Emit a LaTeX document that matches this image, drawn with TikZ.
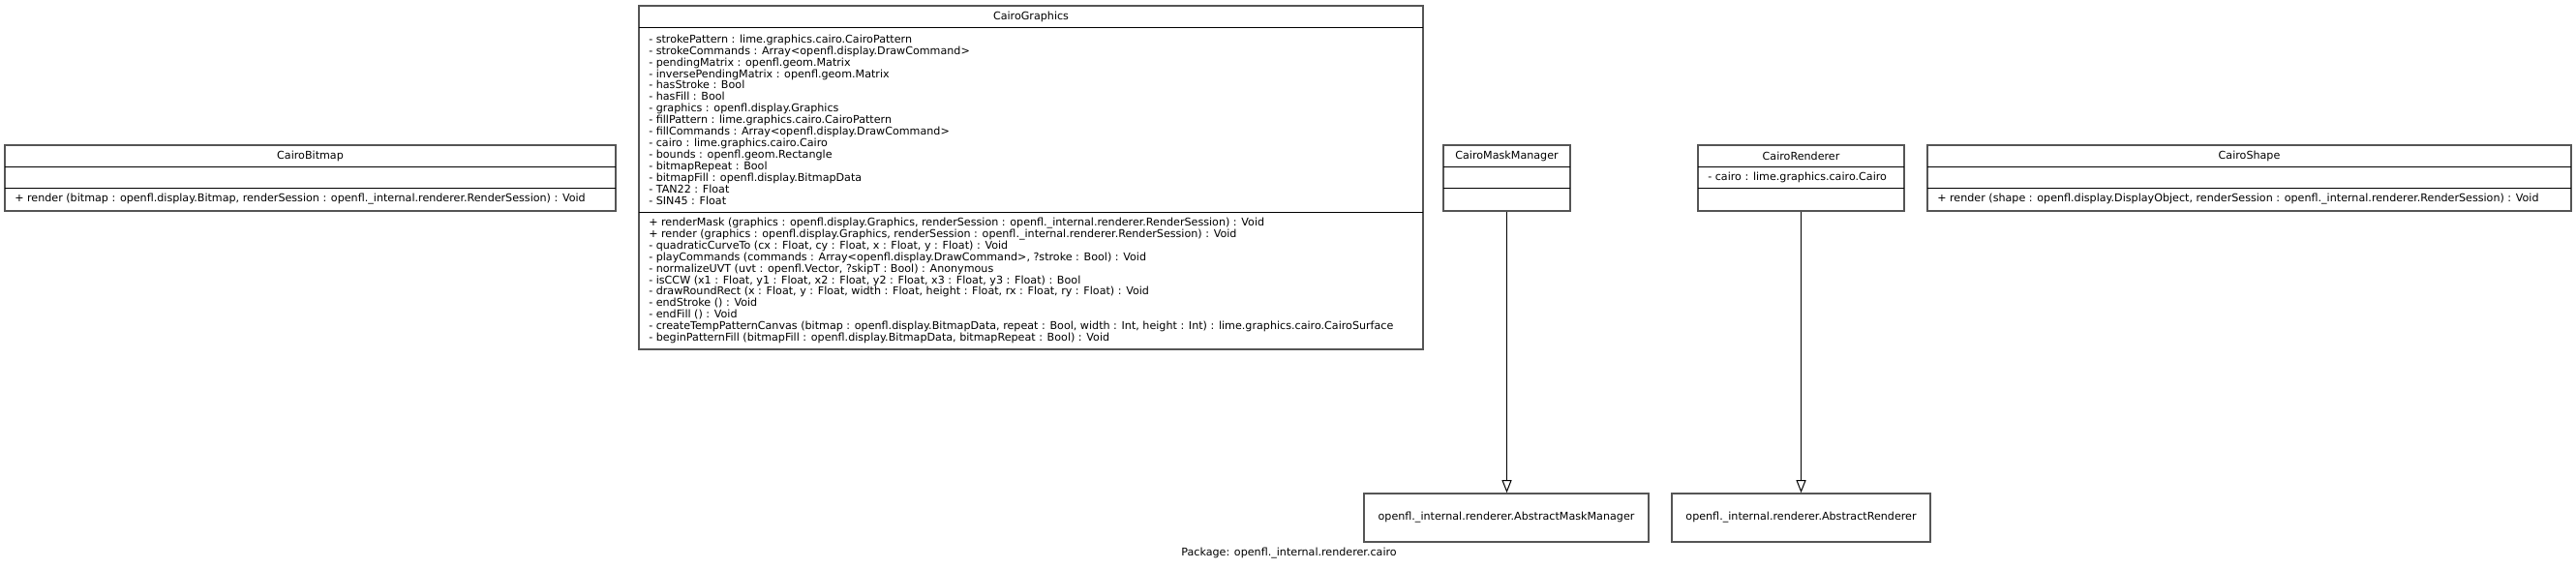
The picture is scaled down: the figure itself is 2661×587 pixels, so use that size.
\documentclass[tikz,border=0pt]{standalone}
\usepackage{fontspec}
\setmainfont{DejaVu Sans}
\usetikzlibrary{fit,arrows.meta}
\definecolor{boxgray}{HTML}{555555}
\newcommand\umlfont{\fontsize{8.35}{8.93}\selectfont}
\begin{document}
\begin{tikzpicture}[x=0.75pt,y=-0.75pt,
  box/.style={draw=boxgray, line width=1.2pt, inner sep=0pt, fill=white},
  sepline/.style={draw=black, line width=0.75pt},
  title/.style={font=\umlfont, inner sep=0pt, anchor=center},
  members/.style={font=\umlfont, align=left, anchor=west, inner sep=0pt},
  inherit/.style={draw=black, line width=0.75pt, -{Triangle[open, width=7.5pt, length=9.75pt, fill=white]}}]
\useasboundingbox (0,0) rectangle (2661,587);
\fill[white] (0,0) rectangle (2661,587);

% CairoBitmap
\node[box, fit={(5,150) (636,218)}] (cb) {};
\draw[sepline] (5,172.5) -- (636,172.5);
\draw[sepline] (5,194.5) -- (636,194.5);
\node[title] (cbt) at (320.5,161) {CairoBitmap};
\node[members] (cbm) at (15,206) {+ render (bitmap : openfl.display.Bitmap, renderSession : openfl.\_internal.renderer.RenderSession) : Void};

% CairoGraphics
\node[box, fit={(660,6) (1470,361)}] (cg) {};
\draw[sepline] (660,28.5) -- (1470,28.5);
\draw[sepline] (660,219.5) -- (1470,219.5);
\node[title] (cgt) at (1065,17) {CairoGraphics};
\node[members] (cga) at (670,123.5) {- strokePattern : lime.graphics.cairo.CairoPattern\\
- strokeCommands : Array<openfl.display.DrawCommand>\\
- pendingMatrix : openfl.geom.Matrix\\
- inversePendingMatrix : openfl.geom.Matrix\\
- hasStroke : Bool\\
- hasFill : Bool\\
- graphics : openfl.display.Graphics\\
- fillPattern : lime.graphics.cairo.CairoPattern\\
- fillCommands : Array<openfl.display.DrawCommand>\\
- cairo : lime.graphics.cairo.Cairo\\
- bounds : openfl.geom.Rectangle\\
- bitmapRepeat : Bool\\
- bitmapFill : openfl.display.BitmapData\\
- TAN22 : Float\\
- SIN45 : Float};
\node[members] (cgm) at (670,290) {+ renderMask (graphics : openfl.display.Graphics, renderSession : openfl.\_internal.renderer.RenderSession) : Void\\
+ render (graphics : openfl.display.Graphics, renderSession : openfl.\_internal.renderer.RenderSession) : Void\\
- quadraticCurveTo (cx : Float, cy : Float, x : Float, y : Float) : Void\\
- playCommands (commands : Array<openfl.display.DrawCommand>, ?stroke : Bool) : Void\\
- normalizeUVT (uvt : openfl.Vector, ?skipT : Bool) : Anonymous\\
- isCCW (x1 : Float, y1 : Float, x2 : Float, y2 : Float, x3 : Float, y3 : Float) : Bool\\
- drawRoundRect (x : Float, y : Float, width : Float, height : Float, rx : Float, ry : Float) : Void\\
- endStroke () : Void\\
- endFill () : Void\\
- createTempPatternCanvas (bitmap : openfl.display.BitmapData, repeat : Bool, width : Int, height : Int) : lime.graphics.cairo.CairoSurface\\
- beginPatternFill (bitmapFill : openfl.display.BitmapData, bitmapRepeat : Bool) : Void};

% CairoMaskManager
\node[box, fit={(1491,150) (1622,218)}] (cmm) {};
\draw[sepline] (1491,172.5) -- (1622,172.5);
\draw[sepline] (1491,194.5) -- (1622,194.5);
\node[title] (cmmt) at (1556.5,161) {CairoMaskManager};

% CairoRenderer
\node[box, fit={(1754,150) (1967,218)}] (cr) {};
\draw[sepline] (1754,172.5) -- (1967,172.5);
\draw[sepline] (1754,194.5) -- (1967,194.5);
\node[title] (crt) at (1860.5,161) {CairoRenderer};
\node[members] (cra) at (1764,183) {- cairo : lime.graphics.cairo.Cairo};

% CairoShape
\node[box, fit={(1991,150) (2656,218)}] (cs) {};
\draw[sepline] (1991,172.5) -- (2656,172.5);
\draw[sepline] (1991,194.5) -- (2656,194.5);
\node[title] (cst) at (2323.5,161) {CairoShape};
\node[members] (csm) at (2001,206) {+ render (shape : openfl.display.DisplayObject, renderSession : openfl.\_internal.renderer.RenderSession) : Void};

% Abstract classes
\node[box, fit={(1409,510) (1703,560)}] (amm) {};
\node[title] (ammt) at (amm.center) {openfl.\_internal.renderer.AbstractMaskManager};
\node[box, fit={(1727,510) (1994,560)}] (ar) {};
\node[title] (art) at (ar.center) {openfl.\_internal.renderer.AbstractRenderer};

% Inheritance
\draw[inherit] (cmm.south) -- (cmm.south |- amm.north);
\draw[inherit] (cr.south) -- (cr.south |- ar.north);

% Package label
\node[title, anchor=east] (pkg) at (1443,572) {Package: openfl.\_internal.renderer.cairo};
\end{tikzpicture}
\end{document}
